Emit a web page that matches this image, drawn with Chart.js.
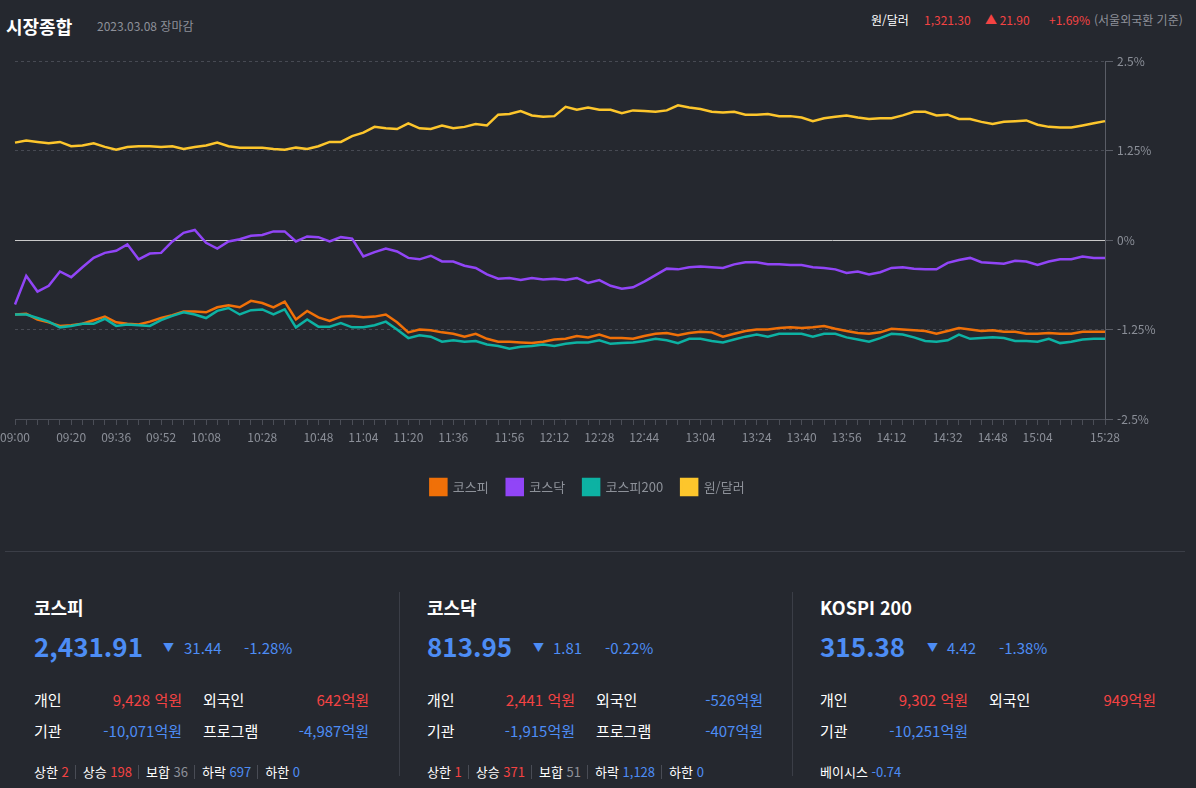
<!DOCTYPE html>
<html lang="ko">
<head>
<meta charset="utf-8">
<title>시장종합</title>
<script src="https://cdn.jsdelivr.net/npm/chart.js@4.4.0/dist/chart.umd.min.js"></script>
<style>
body{margin:0;width:1196px;height:788px;overflow:hidden;background:#25282f;color:#fff;position:relative;
  font-family:"Noto Sans CJK KR","Noto Sans",sans-serif}
.a{position:absolute;white-space:nowrap;line-height:1}
.r{color:#f44343}
.b{color:#4d8df5}
.g{color:#8d9099}
.t{font-size:18px;font-weight:bold;top:598px}
.big{font-size:26px;font-weight:bold;top:633px;color:#4d8df5}
.chg{font-size:15px;top:640px;color:#4d8df5}
.tri{font-size:11px;top:642px;color:#4d8df5}
.row{font-size:15px}
.val{font-size:15px;text-align:right;width:120px}
.st{font-size:13px;top:765px}
.st span.sep{display:inline-block;width:1px;height:14px;background:#494c55;margin:0 7px 0 6px;vertical-align:-2px}
.vline{position:absolute;width:1px;background:#3b3e47;top:592px;height:184px}
#wrap{position:absolute;left:0;top:40px;width:1160px;height:465px}
</style>
</head>
<body>
<div class="a" style="left:6px;top:17px;font-size:18px;font-weight:bold">시장종합</div>
<div class="a g" style="left:97px;top:20px;font-size:12px">2023.03.08 장마감</div>
<div class="a" style="left:871px;top:14px;font-size:12px">원/달러</div>
<div class="a r" style="left:924px;top:14px;font-size:12px">1,321.30</div>
<div class="a r" style="left:985px;top:14px;font-size:12px">▲ 21.90</div>
<div class="a r" style="left:1049px;top:14px;font-size:12px">+1.69%</div>
<div class="a g" style="left:1094px;top:14px;font-size:12px">(서울외국환 기준)</div>

<div id="wrap"><canvas id="chart" width="1160" height="465"></canvas></div>

<div style="position:absolute;left:5px;top:551px;width:1180px;height:1px;background:#3b3e47"></div>
<div class="vline" style="left:399px"></div>
<div class="vline" style="left:792px"></div>

<!-- 코스피 -->
<div class="a t" style="left:34px">코스피</div>
<div class="a big" style="left:34px">2,431.91</div>
<div class="a tri" style="left:163px">▼</div>
<div class="a chg" style="left:184px">31.44</div>
<div class="a chg" style="left:244px">-1.28%</div>
<div class="a row" style="left:34px;top:692px">개인</div>
<div class="a val r" style="left:62px;top:692px">9,428 억원</div>
<div class="a row" style="left:203px;top:692px">외국인</div>
<div class="a val r" style="left:249px;top:692px">642억원</div>
<div class="a row" style="left:34px;top:723px">기관</div>
<div class="a val b" style="left:62px;top:723px">-10,071억원</div>
<div class="a row" style="left:203px;top:723px">프로그램</div>
<div class="a val b" style="left:249px;top:723px">-4,987억원</div>
<div class="a st" style="left:34px">상한 <span class="r">2</span><span class="sep"></span>상승 <span class="r">198</span><span class="sep"></span>보합 <span class="g">36</span><span class="sep"></span>하락 <span class="b">697</span><span class="sep"></span>하한 <span class="b">0</span></div>

<!-- 코스닥 -->
<div class="a t" style="left:427px">코스닥</div>
<div class="a big" style="left:427px">813.95</div>
<div class="a tri" style="left:533px">▼</div>
<div class="a chg" style="left:553px">1.81</div>
<div class="a chg" style="left:605px">-0.22%</div>
<div class="a row" style="left:427px;top:692px">개인</div>
<div class="a val r" style="left:455px;top:692px">2,441 억원</div>
<div class="a row" style="left:596px;top:692px">외국인</div>
<div class="a val b" style="left:643px;top:692px">-526억원</div>
<div class="a row" style="left:427px;top:723px">기관</div>
<div class="a val b" style="left:455px;top:723px">-1,915억원</div>
<div class="a row" style="left:596px;top:723px">프로그램</div>
<div class="a val b" style="left:643px;top:723px">-407억원</div>
<div class="a st" style="left:427px">상한 <span class="r">1</span><span class="sep"></span>상승 <span class="r">371</span><span class="sep"></span>보합 <span class="g">51</span><span class="sep"></span>하락 <span class="b">1,128</span><span class="sep"></span>하한 <span class="b">0</span></div>

<!-- KOSPI 200 -->
<div class="a t" style="left:820px">KOSPI 200</div>
<div class="a big" style="left:820px">315.38</div>
<div class="a tri" style="left:927px">▼</div>
<div class="a chg" style="left:947px">4.42</div>
<div class="a chg" style="left:999px">-1.38%</div>
<div class="a row" style="left:820px;top:692px">개인</div>
<div class="a val r" style="left:848px;top:692px">9,302 억원</div>
<div class="a row" style="left:989px;top:692px">외국인</div>
<div class="a val r" style="left:1036px;top:692px">949억원</div>
<div class="a row" style="left:820px;top:723px">기관</div>
<div class="a val b" style="left:848px;top:723px">-10,251억원</div>
<div class="a st" style="left:820px">베이시스 <span class="b">-0.74</span></div>

<script>
// times every 4 minutes, 09:00 - 15:28
var times = [
  '09:00','09:04','09:08','09:12','09:16','09:20','09:24','09:28','09:32','09:36','09:40','09:44','09:48','09:52','09:56',
  '10:00','10:04','10:08','10:12','10:16','10:20','10:24','10:28','10:32','10:36','10:40','10:44','10:48','10:52','10:56',
  '11:00','11:04','11:08','11:12','11:16','11:20','11:24','11:28','11:32','11:36','11:40','11:44','11:48','11:52','11:56',
  '12:00','12:04','12:08','12:12','12:16','12:20','12:24','12:28','12:32','12:36','12:40','12:44','12:48','12:52','12:56',
  '13:00','13:04','13:08','13:12','13:16','13:20','13:24','13:28','13:32','13:36','13:40','13:44','13:48','13:52','13:56',
  '14:00','14:04','14:08','14:12','14:16','14:20','14:24','14:28','14:32','14:36','14:40','14:44','14:48','14:52','14:56',
  '15:00','15:04','15:08','15:12','15:16','15:20','15:24','15:28'
];
var tickLabels = ['09:00','09:20','09:36','09:52','10:08','10:28','10:48','11:04','11:20','11:36','11:56','12:12',
  '12:28','12:44','13:04','13:24','13:40','13:56','14:12','14:32','14:48','15:04','15:28'];
var yTicks = [-2.5, -1.25, 0, 1.25, 2.5];

// 등락률 (%)
var kospi = [
  -1.04,-1.03,-1.11,-1.15,-1.20,-1.19,-1.17,-1.12,-1.07,-1.15,-1.17,-1.18,-1.14,-1.09,-1.05,-1.00,-1.00,-1.01,-0.94,-0.91,-0.94,-0.85,-0.88,-0.94,-0.86,
  -1.11,-0.99,-1.08,-1.13,-1.07,-1.06,-1.08,-1.07,-1.04,-1.15,-1.29,-1.25,-1.26,-1.29,-1.31,-1.35,-1.31,-1.38,-1.42,-1.42,-1.43,-1.44,-1.42,-1.39,-1.38,
  -1.34,-1.36,-1.32,-1.37,-1.37,-1.38,-1.34,-1.31,-1.30,-1.33,-1.30,-1.28,-1.29,-1.35,-1.31,-1.27,-1.25,-1.25,-1.23,-1.22,-1.23,-1.22,-1.20,-1.24,
  -1.27,-1.30,-1.31,-1.29,-1.24,-1.25,-1.26,-1.27,-1.31,-1.27,-1.23,-1.25,-1.27,-1.26,-1.28,-1.28,-1.31,-1.31,-1.30,-1.31,-1.31,-1.28,-1.28,-1.28
];
var kosdaq = [
  -0.90,-0.50,-0.72,-0.64,-0.44,-0.52,-0.38,-0.25,-0.18,-0.15,-0.06,-0.27,-0.19,-0.18,-0.02,0.10,0.14,-0.04,-0.12,-0.02,0.01,0.06,0.07,0.12,0.12,
  -0.02,0.05,0.04,-0.02,0.04,0.02,-0.23,-0.17,-0.12,-0.16,-0.25,-0.27,-0.22,-0.30,-0.30,-0.36,-0.39,-0.48,-0.54,-0.53,-0.56,-0.53,-0.55,-0.54,-0.56,
  -0.53,-0.60,-0.56,-0.64,-0.68,-0.66,-0.58,-0.49,-0.40,-0.41,-0.38,-0.37,-0.38,-0.39,-0.34,-0.31,-0.31,-0.34,-0.34,-0.35,-0.35,-0.38,-0.39,-0.41,
  -0.46,-0.44,-0.48,-0.45,-0.39,-0.38,-0.40,-0.41,-0.41,-0.32,-0.28,-0.25,-0.31,-0.32,-0.33,-0.29,-0.30,-0.35,-0.30,-0.27,-0.27,-0.23,-0.25,-0.25
];
var kospi200 = [
  -1.04,-1.04,-1.09,-1.14,-1.22,-1.20,-1.17,-1.17,-1.10,-1.20,-1.18,-1.19,-1.20,-1.12,-1.06,-1.01,-1.04,-1.09,-0.99,-0.95,-1.04,-0.98,-0.97,-1.04,-0.97,
  -1.22,-1.11,-1.21,-1.21,-1.16,-1.22,-1.22,-1.19,-1.14,-1.25,-1.37,-1.33,-1.35,-1.42,-1.40,-1.42,-1.41,-1.46,-1.48,-1.52,-1.49,-1.48,-1.46,-1.48,-1.45,
  -1.43,-1.43,-1.40,-1.45,-1.44,-1.43,-1.41,-1.38,-1.40,-1.44,-1.38,-1.38,-1.41,-1.43,-1.39,-1.35,-1.32,-1.35,-1.31,-1.31,-1.31,-1.35,-1.31,-1.31,
  -1.36,-1.39,-1.42,-1.37,-1.31,-1.32,-1.36,-1.41,-1.42,-1.40,-1.32,-1.38,-1.37,-1.36,-1.37,-1.41,-1.41,-1.42,-1.38,-1.44,-1.42,-1.39,-1.38,-1.38
];
var usdkrw = [
  1.36,1.39,1.37,1.35,1.37,1.31,1.32,1.35,1.30,1.26,1.30,1.31,1.31,1.30,1.31,1.27,1.30,1.32,1.36,1.31,1.29,1.29,1.29,1.27,1.26,
  1.29,1.27,1.31,1.37,1.37,1.45,1.50,1.58,1.56,1.55,1.63,1.56,1.55,1.60,1.56,1.58,1.62,1.60,1.75,1.76,1.80,1.74,1.72,1.73,1.86,
  1.82,1.85,1.82,1.82,1.77,1.81,1.80,1.79,1.81,1.88,1.85,1.83,1.79,1.78,1.79,1.75,1.75,1.76,1.73,1.73,1.71,1.66,1.70,1.72,
  1.74,1.71,1.69,1.70,1.70,1.74,1.79,1.79,1.74,1.75,1.69,1.69,1.65,1.62,1.65,1.66,1.67,1.61,1.58,1.57,1.57,1.60,1.63,1.66
];

Chart.defaults.font.family = '"Noto Sans CJK KR", "Noto Sans", sans-serif';

function line(label, data, color, order) {
    return {
        label: label,
        data: data,
        borderColor: color,
        backgroundColor: color,
        borderWidth: 2.5,
        pointRadius: 0,
        tension: 0,
        order: order
    };
}

var chart = new Chart(document.getElementById('chart'), {
    type: 'line',
    data: {
        labels: times,
        datasets: [
            line('코스피', kospi, '#f07008', 1),
            line('코스닥', kosdaq, '#9145f7', 1),
            line('코스피200', kospi200, '#0db2a3', 0),
            line('원/달러', usdkrw, '#fdc62c', 1)
        ]
    },
    options: {
        responsive: false,
        animation: false,
        layout: { padding: { left: 15, top: 21, right: 0, bottom: 0 } },
        plugins: {
            tooltip: { enabled: false },
            legend: {
                position: 'bottom',
                labels: {
                    boxWidth: 16,
                    boxHeight: 16,
                    padding: 18,
                    color: '#8d9199',
                    font: { size: 13 },
                    sort: function (a, b) { return a.datasetIndex - b.datasetIndex; }
                }
            }
        },
        scales: {
            x: {
                grid: { drawOnChartArea: false, tickLength: 6, color: '#4b4e57' },
                border: { color: '#4b4e57' },
                ticks: {
                    autoSkip: false,
                    maxRotation: 0,
                    color: '#8b8f98',
                    font: { size: 12 },
                    padding: 5,
                    callback: function (v, i) {
                        return tickLabels.indexOf(times[i]) >= 0 ? times[i] : '';
                    }
                },
                afterFit: function (s) { s.height = 42; s.paddingLeft = 0; s.paddingRight = 0; }
            },
            y: {
                position: 'right',
                min: -2.5,
                max: 2.5,
                afterBuildTicks: function (s) {
                    s.ticks = yTicks.map(function (v) { return { value: v }; });
                },
                grid: {
                    color: function (ctx) { return ctx.tick && ctx.tick.value === 0 ? '#c9c9c9' : '#474a53'; },
                    tickColor: '#5a5d66',
                    tickLength: 8
                },
                border: {
                    color: '#5a5d66',
                    dash: function (ctx) { return ctx.tick && ctx.tick.value === 0 ? [] : [3, 3]; }
                },
                ticks: {
                    color: '#8b8f98',
                    font: { size: 12 },
                    padding: 4,
                    callback: function (v) { return v + '%'; }
                },
                afterFit: function (s) { s.width = 55; }
            }
        }
    }
});
</script>
</body>
</html>
